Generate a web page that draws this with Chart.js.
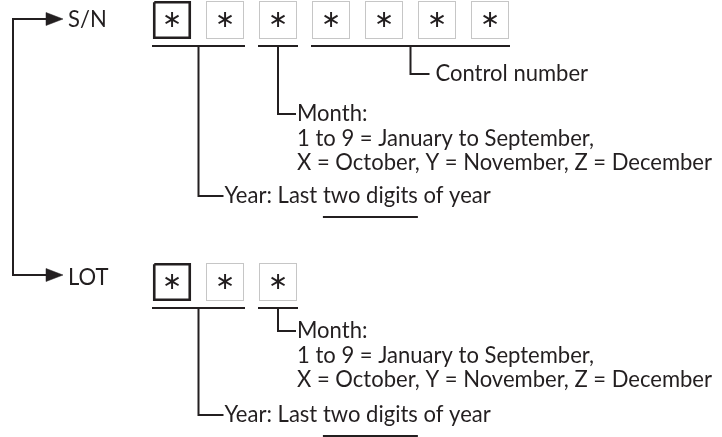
<!DOCTYPE html>
<html>
<head>
<meta charset="utf-8">
<script src="https://cdn.jsdelivr.net/npm/chart.js@4"></script>
<style>
html,body{margin:0;padding:0;background:#fff;}
#wrap{width:722px;height:437px;}
</style>
</head>
<body>
<div id="wrap"><canvas id="c" width="722" height="437"></canvas></div>
<script>
// ---------- content ----------
const rowLabels = ['S/N', 'LOT'];
const snDigits = ['∗', '∗', '∗', '∗', '∗', '∗', '∗'];
const lotDigits = ['∗', '∗', '∗'];
const snFieldNames = ['Year', 'Month', 'Control number'];
const snFieldStart = [0, 2, 3];
const snFieldEnd = [1, 2, 6];
const lotFieldNames = ['Year', 'Month'];
const lotFieldStart = [0, 2];
const lotFieldEnd = [1, 2];
const monthText = ['Month:', '1 to 9 = January to September,', 'X = October, Y = November, Z = December'];
const yearText = ['Year: Last ', 'two digits', ' of year'];
const controlText = ['Control number'];

// ---------- layout (diagram units = px) ----------
const INK = '#231f20';
const FONT = 'Lato, "Liberation Sans", sans-serif';
const FONT_SIZE = 23;
const LONG_LINE_WIDTH = 415;
const L = {
  treeX: 13, arrowBase: 46, arrowTip: 63, arrowHalf: 6.5, labelX: 68,
  boxLeft0: 153, boxPitch: 53, boxW: 38, boxH: 38, underGap: 7,
  rows: [
    { arrowY: 19, labelBase: 27, boxTop: 1, elbowY: { 'Year': 196, 'Month': 114, 'Control number': 74 } },
    { arrowY: 275, labelBase: 285, boxTop: 263, elbowY: { 'Year': 415, 'Month': 331 } }
  ],
  elbowLen: { 'Year': 25, 'Month': 18, 'Control number': 19 },
  textGap: { 'Year': 1, 'Month': 1, 'Control number': 6 },
  baseBelowElbow: 7, lineStep: 24.5, underlineBelowBase: 14
};

const rowsContent = [
  { label: rowLabels[0], digits: snDigits, names: snFieldNames, start: snFieldStart, end: snFieldEnd },
  { label: rowLabels[1], digits: lotDigits, names: lotFieldNames, start: lotFieldStart, end: lotFieldEnd }
];

function seg(points, opts) {
  return Object.assign({
    data: points.map(p => ({ x: p[0], y: p[1] })),
    showLine: true, pointRadius: 0, borderColor: INK, borderWidth: 2,
    borderCapStyle: 'butt', borderJoinStyle: 'miter', fill: false, tension: 0, clip: false
  }, opts || {});
}

const datasets = [];
// tree connector
datasets.push(seg([[L.arrowBase, L.rows[0].arrowY], [L.treeX, L.rows[0].arrowY], [L.treeX, L.rows[1].arrowY], [L.arrowBase, L.rows[1].arrowY]]));
// arrowheads
L.rows.forEach(r => {
  datasets.push(seg([[L.arrowBase, r.arrowY - L.arrowHalf], [L.arrowTip, r.arrowY], [L.arrowBase, r.arrowY + L.arrowHalf], [L.arrowBase, r.arrowY - L.arrowHalf]],
    { fill: 'shape', backgroundColor: INK, borderWidth: 0.5 }));
});

const boxX = i => L.boxLeft0 + i * L.boxPitch;
const textItems = [];

rowsContent.forEach((rc, ri) => {
  const r = L.rows[ri];
  // boxes
  rc.digits.forEach((d, i) => {
    const x0 = boxX(i), x1 = x0 + L.boxW, y0 = r.boxTop, y1 = r.boxTop + L.boxH;
    if (i === 0) {
      datasets.push(seg([[x0 + 1.25, y0 + 1.25], [x1 - 1.25, y0 + 1.25], [x1 - 1.25, y1 - 1.25], [x0 + 1.25, y1 - 1.25], [x0 + 1.25, y0 + 1.25]], { borderWidth: 2.6 }));
    } else {
      datasets.push(seg([[x0 + 0.5, y0 + 0.5], [x1 - 0.5, y0 + 0.5], [x1 - 0.5, y1 - 0.5], [x0 + 0.5, y1 - 0.5], [x0 + 0.5, y0 + 0.5]],
        { borderWidth: 1, borderColor: '#8c8c8c', borderDash: [1, 1] }));
    }
    textItems.push({ t: d, x: (x0 + x1) / 2, y: (y0 + y1) / 2, kind: 'digit' });
  });
  textItems.push({ t: rc.label, x: L.labelX, y: r.labelBase, kind: 'label' });
  // fields
  const uy = r.boxTop + L.boxH + L.underGap;
  rc.names.forEach((name, fi) => {
    const xa = boxX(rc.start[fi]) - 1, xb = boxX(rc.end[fi]) + L.boxW + 1;
    datasets.push(seg([[xa, uy], [xb, uy]]));
    const cx = (xa + xb) / 2;
    const ey = r.elbowY[name];
    const ex = cx + L.elbowLen[name];
    datasets.push(seg([[cx, uy], [cx, ey], [ex, ey]]));
    const tx = ex + L.textGap[name];
    const base = ey + L.baseBelowElbow;
    if (name === 'Month') {
      monthText.forEach((line, li) => textItems.push({ t: line, x: tx, y: base + li * L.lineStep, kind: 'text' }));
    } else if (name === 'Year') {
      textItems.push({ parts: yearText, x: tx, y: base, kind: 'underlined' });
    } else {
      textItems.push({ t: controlText[0], x: tx, y: base, kind: 'text' });
    }
  });
});

const textPlugin = {
  id: 'diagramText',
  afterDatasetsDraw(chart) {
    const ctx = chart.ctx, xs = chart.scales.x, ys = chart.scales.y;
    ctx.save();
    ctx.fillStyle = INK;
    ctx.font = FONT_SIZE + 'px ' + FONT;
    const sx = LONG_LINE_WIDTH / ctx.measureText(monthText[2]).width;
    textItems.forEach(it => {
      const px = xs.getPixelForValue(it.x), py = ys.getPixelForValue(it.y);
      ctx.save();
      if (it.kind === 'digit') {
        ctx.font = '24px "DejaVu Sans", sans-serif';
        ctx.textAlign = 'center';
        ctx.textBaseline = 'middle';
        ctx.fillText(it.t, px, py + 1);
      } else {
        ctx.font = FONT_SIZE + 'px ' + FONT;
        ctx.textAlign = 'left';
        ctx.textBaseline = 'alphabetic';
        ctx.translate(px, py);
        ctx.scale(sx, 1);
        if (it.kind === 'underlined') {
          let x = 0;
          it.parts.forEach((p, pi) => {
            ctx.fillText(p, x, 0);
            const w = ctx.measureText(p).width;
            if (pi === 1) {
              ctx.fillRect(x, L.underlineBelowBase - 1, w, 2);
            }
            x += w;
          });
        } else {
          ctx.fillText(it.t, 0, 0);
        }
      }
      ctx.restore();
    });
    ctx.restore();
  }
};

new Chart(document.getElementById('c'), {
  type: 'scatter',
  data: { datasets },
  options: {
    responsive: false,
    animation: false,
    devicePixelRatio: 1,
    layout: { padding: 0 },
    plugins: { legend: { display: false }, tooltip: { enabled: false } },
    scales: {
      x: { type: 'linear', min: 0, max: 722, display: false },
      y: { type: 'linear', min: 0, max: 437, reverse: true, display: false }
    },
    elements: { point: { radius: 0 } }
  },
  plugins: [textPlugin]
});
</script>
</body>
</html>
